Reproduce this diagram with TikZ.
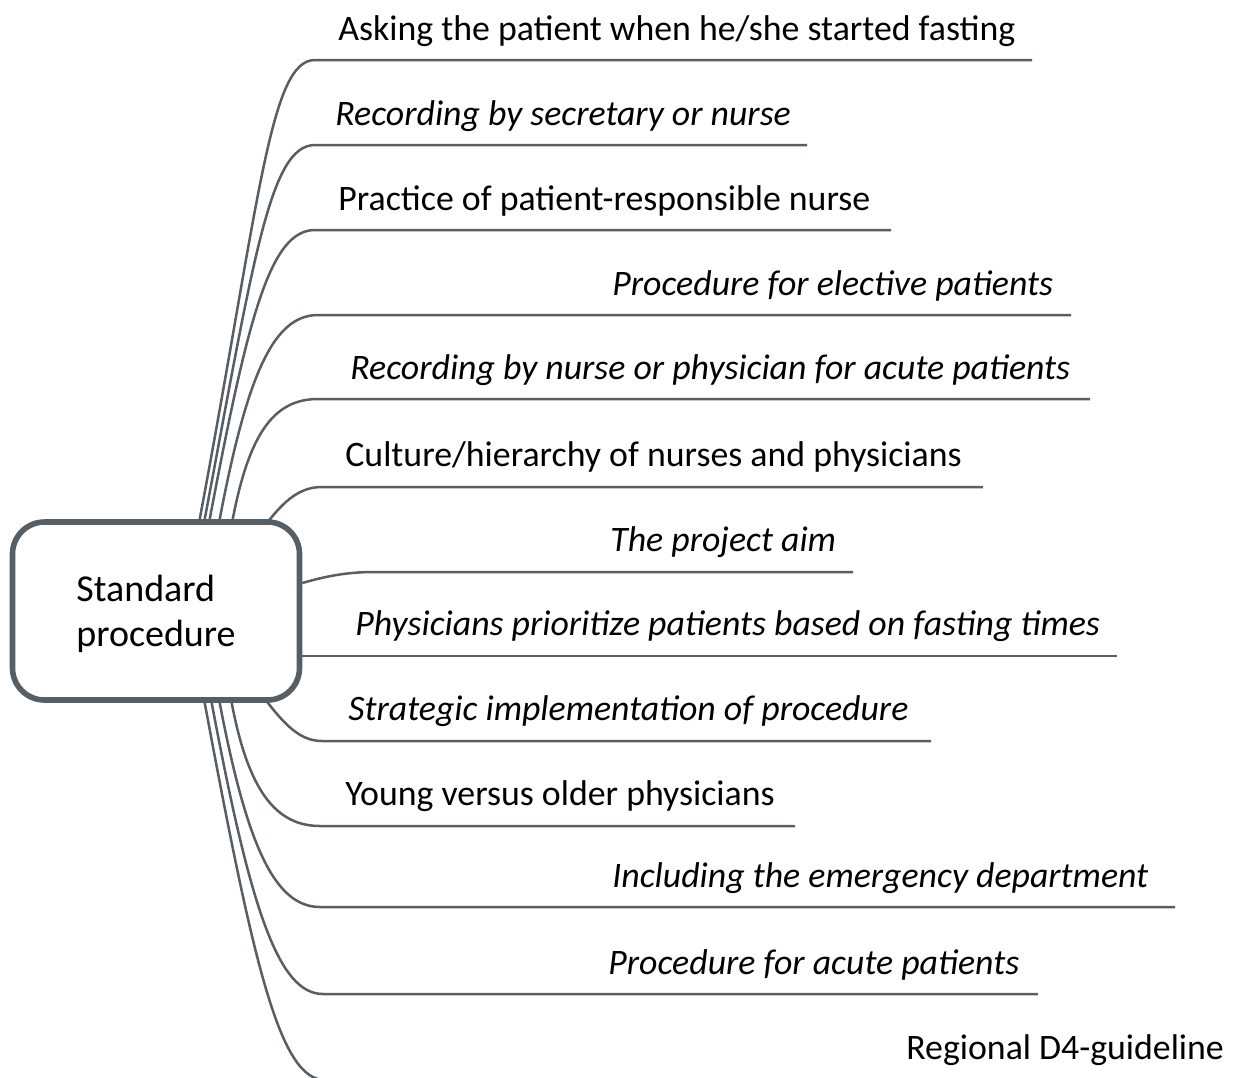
\documentclass[tikz,border=0pt]{standalone}
\usepackage{fontspec}
\setmainfont{Carlito}
\usepackage{tikz}
\usetikzlibrary{calc,backgrounds}
\definecolor{linegray}{RGB}{86,94,102}

\tikzset{
  mainbox/.style={draw=linegray, line width=2.8pt, rounded corners=16pt, fill=white,
    minimum width=143.5pt, minimum height=89pt, align=left,
    font=\fontsize{19}{22.5}\selectfont},
  branch/.style={draw=linegray, line width=1.25pt},
  lbl/.style={anchor=base west, inner sep=0pt, font=\fontsize{17.9}{21}\selectfont},
  ilbl/.style={lbl, font=\fontsize{17.9}{21}\selectfont\itshape}
}

\begin{document}
\begin{tikzpicture}[x=0.5pt, y=-0.5pt]
      \useasboundingbox (0,0) rectangle (1242,1077);
      \node (sp) at (156,611) [mainbox, text depth=-2pt] {Standard\\procedure};
      \node (t1) at (338,40) [lbl] {Asking the patient when he/she started fasting};
      \node (t2) at (335,125) [ilbl] {Recording by secretary or nurse};
      \node (t3) at (338,210) [lbl] {Practice of patient-responsible nurse};
      \node (t4) at (612,295) [ilbl] {Procedure for elective patients};
      \node (t5) at (350,379) [ilbl] {Recording by nurse or physician for acute patients};
      \node (t6) at (345,466) [lbl] {Culture/hierarchy of nurses and physicians};
      \node (t7) at (610,551) [ilbl] {The project aim};
      \node (t8) at (355,635) [ilbl] {Physicians prioritize patients based on fasting times};
      \node (t9) at (348,720) [ilbl] {Strategic implementation of procedure};
      \node (t10) at (345,805) [lbl] {Young versus older physicians};
      \node (t11) at (612,887) [ilbl] {Including the emergency department};
      \node (t12) at (608,974) [ilbl] {Procedure for acute patients};
      \node (t13) at (906,1059) [lbl] {Regional D4-guideline};
      \coordinate (e1) at (1032,60);
      \coordinate (e2) at (807,145);
      \coordinate (e3) at (891,230);
      \coordinate (e4) at (1071,315);
      \coordinate (e5) at (1090,399);
      \coordinate (e6) at (983,487);
      \coordinate (e7) at (853,572);
      \coordinate (e8) at (1117,656);
      \coordinate (e9) at (931,741);
      \coordinate (e10) at (795,826);
      \coordinate (e11) at (1175,907);
      \coordinate (e12) at (1038,994);
      \coordinate (e13) at (1120,1080);
      \begin{scope}[on background layer]
      \clip (0,0) rectangle (1242,1077);
      \draw[branch] ($(sp.north west)+(190,0)$) .. controls (260,198) and (270,60) .. (315,60) -- (e1);
      \draw[branch] ($(sp.north west)+(195,0)$) .. controls (254,257) and (270,145) .. (315,145) -- (e2);
      \draw[branch] ($(sp.north west)+(200,0)$) .. controls (248,317) and (270,230) .. (315,230) -- (e3);
      \draw[branch] ($(sp.north west)+(210,0)$) .. controls (247,376) and (273,315) .. (318,315) -- (e4);
      \draw[branch] ($(sp.north west)+(223,0)$) .. controls (249,435) and (273,399) .. (318,399) -- (e5);
      \draw[branch] ($(sp.north west)+(257,4)$) .. controls (285,500) and (300,487) .. (322,487) -- (e6);
      \draw[branch] ([yshift=14pt]sp.east) .. controls (330,575) and (350,572) .. (375,572) -- (e7);
      \draw[branch] ([yshift=-22.5pt]sp.east) .. controls (312,656) and (315,656) .. (330,656) -- (e8);
      \draw[branch] ($(sp.south west)+(255,-4)$) .. controls (285,725) and (300,741) .. (322,741) -- (e9);
      \draw[branch] ($(sp.south west)+(222,0)$) .. controls (248,789) and (275,826) .. (320,826) -- (e10);
      \draw[branch] ($(sp.south west)+(210,0)$) .. controls (247,846) and (275,907) .. (320,907) -- (e11);
      \draw[branch] ($(sp.south west)+(202,0)$) .. controls (250,907) and (278,994) .. (323,994) -- (e12);
      \draw[branch] ($(sp.south west)+(195,0)$) .. controls (254,967) and (280,1080) .. (325,1080) -- (e13);
      \end{scope}
\end{tikzpicture}
\end{document}
